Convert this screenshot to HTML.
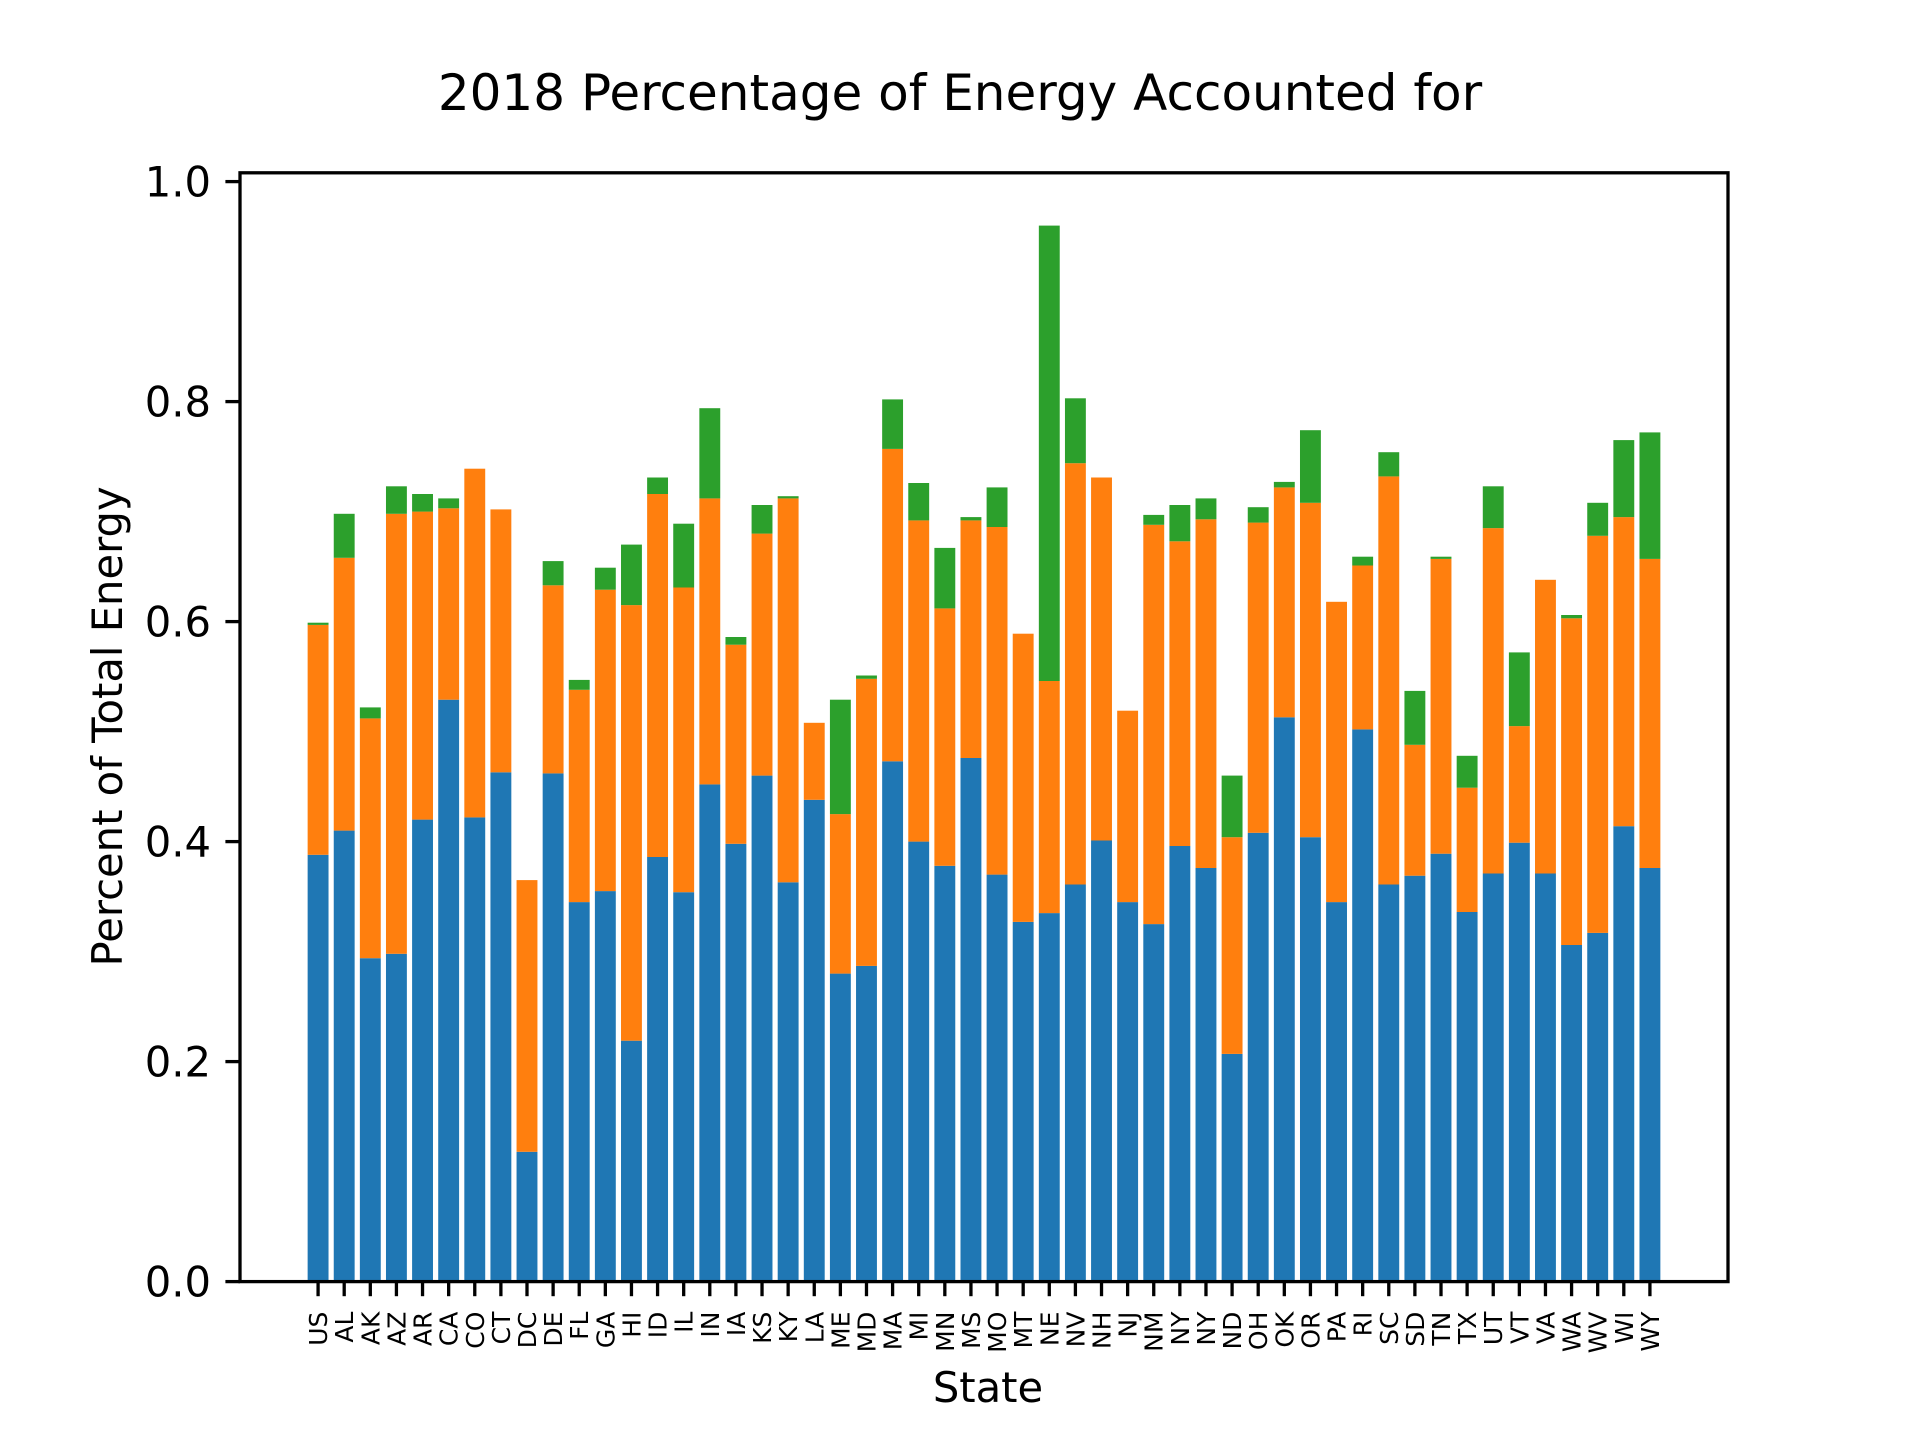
<!DOCTYPE html>
<html><head><meta charset="utf-8"><style>
html,body{margin:0;padding:0;background:#fff;}
svg{display:block;font-family:"DejaVu Sans","Liberation Sans",sans-serif;}
</style></head><body>
<svg id="chart" width="1920" height="1440" viewBox="0 0 1920 1440" xmlns="http://www.w3.org/2000/svg">
<rect width="1920" height="1440" fill="#fff"/>
<text x="960" y="110" font-size="50" text-anchor="middle">2018 Percentage of Energy Accounted for</text>
<g id="bars"></g>
<g id="yticks"></g>
<g id="xticks"></g>
<rect x="240" y="172.8" width="1488" height="1108.8" fill="none" stroke="#000" stroke-width="3.3"/>
<text transform="translate(122,726.4) rotate(-90)" font-size="41.7" text-anchor="middle">Percent of Total Energy</text>
<text x="988" y="1402" font-size="41.7" text-anchor="middle">State</text>
</svg>
<script>
const categories=["US","AL","AK","AZ","AR","CA","CO","CT","DC","DE","FL","GA","HI","ID","IL","IN","IA","KS","KY","LA","ME","MD","MA","MI","MN","MS","MO","MT","NE","NV","NH","NJ","NM","NY","NY","ND","OH","OK","OR","PA","RI","SC","SD","TN","TX","UT","VT","VA","WA","WV","WI","WY"];
const series1=[.388,.410,.294,.298,.420,.529,.422,.463,.118,.462,.345,.355,.219,.386,.354,.452,.398,.460,.363,.438,.280,.287,.473,.400,.378,.476,.370,.327,.335,.361,.401,.345,.325,.396,.376,.207,.408,.513,.404,.345,.502,.361,.369,.389,.336,.371,.399,.371,.306,.317,.414,.376];
const series2=[.209,.248,.218,.400,.280,.174,.317,.239,.247,.171,.193,.274,.396,.330,.277,.260,.181,.220,.349,.070,.145,.261,.284,.292,.234,.216,.316,.262,.211,.383,.330,.174,.363,.277,.317,.197,.282,.209,.304,.273,.149,.371,.119,.268,.113,.314,.106,.267,.297,.361,.281,.281];
const series3=[.002,.040,.010,.025,.016,.009,0,0,0,.022,.009,.020,.055,.015,.058,.082,.007,.026,.002,0,.104,.003,.045,.034,.055,.003,.036,0,.414,.059,0,0,.009,.033,.019,.056,.014,.005,.066,0,.008,.022,.049,.002,.029,.038,.067,0,.003,.030,.070,.115];
const yTicks=[0,0.2,0.4,0.6,0.8,1.0];
const yTickLabels=["0.0","0.2","0.4","0.6","0.8","1.0"];
const colors=["#1f77b4","#ff7f0e","#2ca02c"];
const NS="http://www.w3.org/2000/svg";
const L=240,R=1728,T=172.8,B=1281.6;
const n=categories.length;
const xmin=-0.4-0.05*(n-0.2),xmax=n-1+0.4+0.05*(n-0.2);
function xs(i){return L+(i-xmin)/(xmax-xmin)*(R-L);}
const yTop=0.96*1.05;
function ys(v){return B-v/yTop*(B-T);}
const bw=0.8*(R-L)/(xmax-xmin);
const gb=document.getElementById('bars');
const allSeries=[series1,series2,series3];
for(let i=0;i<n;i++){
  let base=0;
  for(let s=0;s<3;s++){
    const v=allSeries[s][i];
    const r=document.createElementNS(NS,'rect');
    r.setAttribute('x',xs(i)-bw/2);
    r.setAttribute('y',ys(base+v));
    r.setAttribute('width',bw);
    r.setAttribute('height',Math.max(0,ys(base)-ys(base+v)));
    r.setAttribute('fill',colors[s]);
    
    
    gb.appendChild(r);
    base+=v;
  }
}
const gy=document.getElementById('yticks');
yTicks.forEach((t,k)=>{
  const y=ys(t);
  const ln=document.createElementNS(NS,'line');
  ln.setAttribute('x1',L-14.6);ln.setAttribute('x2',L);ln.setAttribute('y1',y);ln.setAttribute('y2',y);
  ln.setAttribute('stroke','#000');ln.setAttribute('stroke-width','3.3');
  
  
  gy.appendChild(ln);
  const tx=document.createElementNS(NS,'text');
  tx.setAttribute('x',L-29);tx.setAttribute('y',y+15);
  tx.setAttribute('font-size','41.7');tx.setAttribute('text-anchor','end');
  tx.textContent=yTickLabels[k];
  
  
  gy.appendChild(tx);
});
const gx=document.getElementById('xticks');
categories.forEach((c,i)=>{
  const x=xs(i);
  const ln=document.createElementNS(NS,'line');
  ln.setAttribute('x1',x);ln.setAttribute('x2',x);ln.setAttribute('y1',B);ln.setAttribute('y2',B+14.6);
  ln.setAttribute('stroke','#000');ln.setAttribute('stroke-width','3.3');
  
  
  gx.appendChild(ln);
  const tx=document.createElementNS(NS,'text');
  tx.setAttribute('transform','translate('+(x+9)+','+(B+30)+') rotate(-90)');
  tx.setAttribute('font-size','25');tx.setAttribute('text-anchor','end');
  tx.textContent=c;
  
  
  gx.appendChild(tx);
});
</script>
</body></html>
